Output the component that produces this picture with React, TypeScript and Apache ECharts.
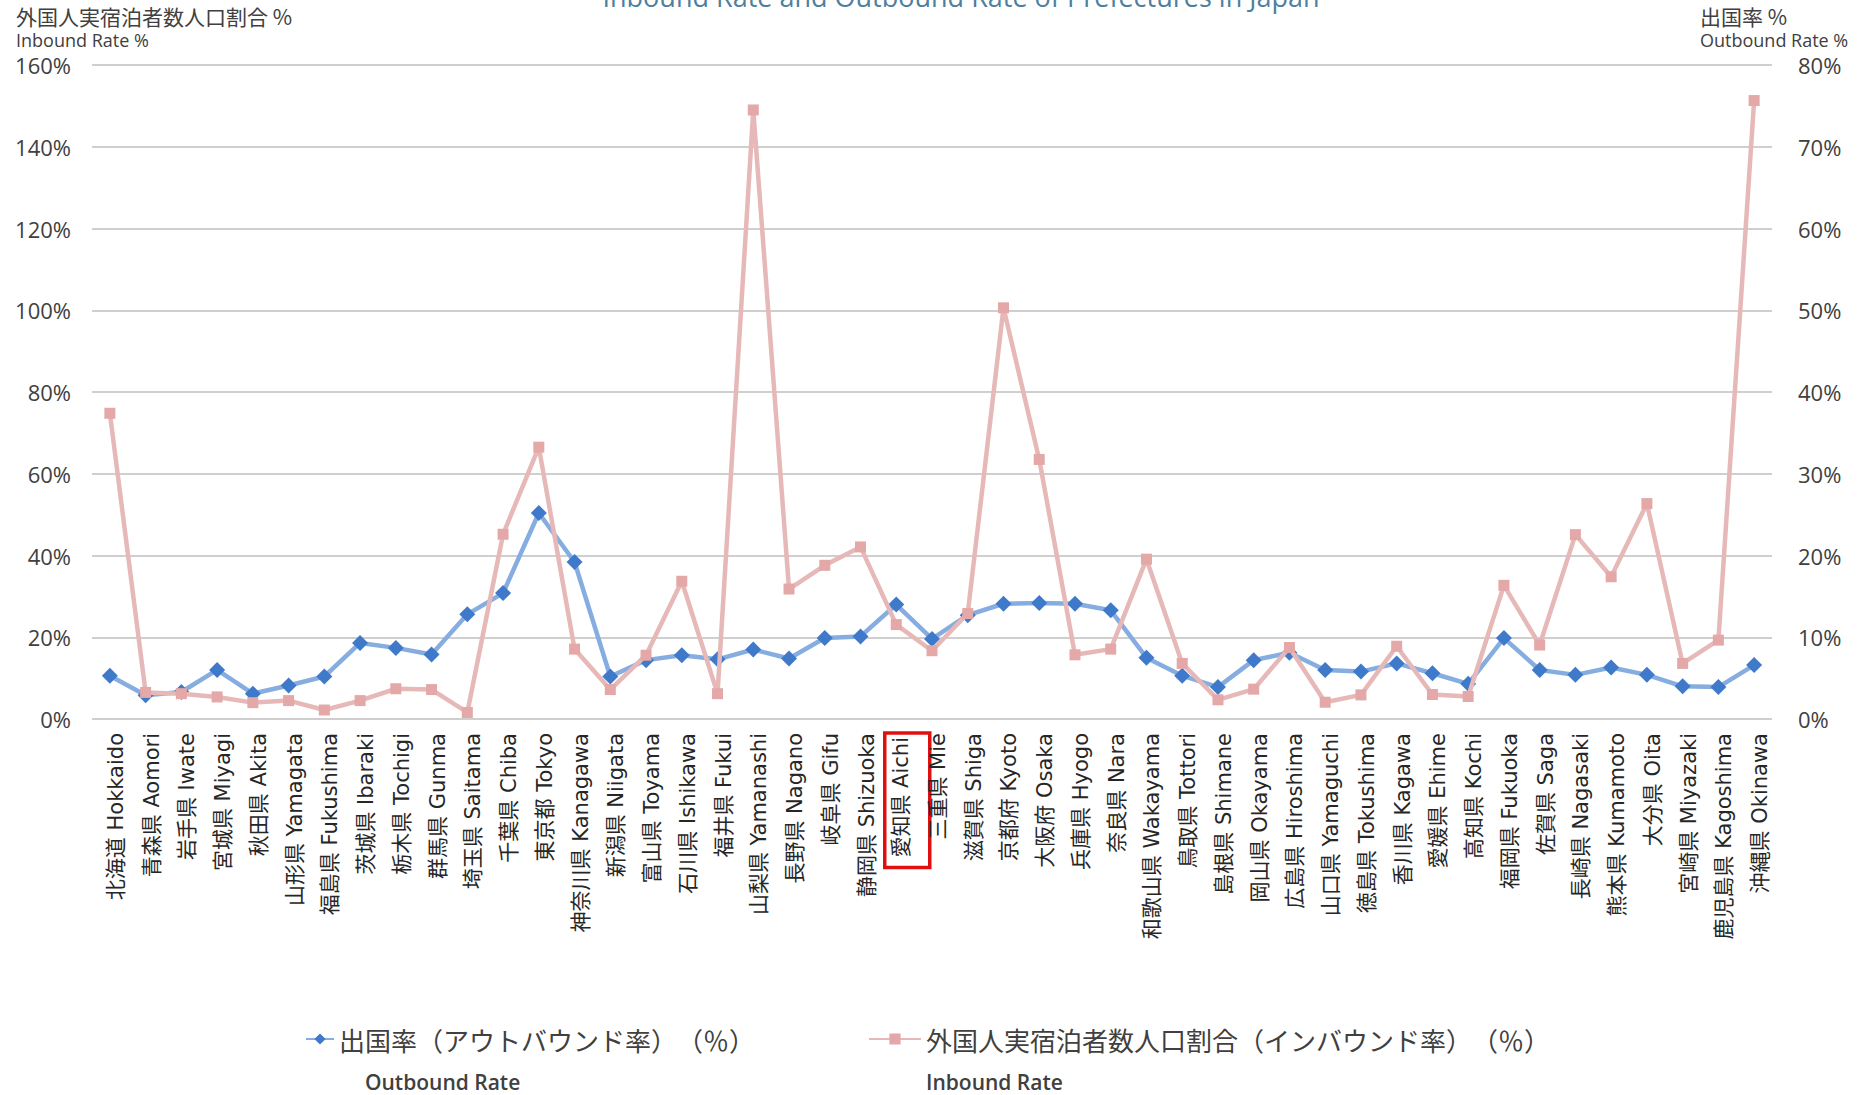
import React, { useEffect, useRef } from "react";
import * as echarts from "echarts";

const categories = [
  "北海道 Hokkaido", "青森県 Aomori", "岩手県 Iwate", "宮城県 Miyagi", "秋田県 Akita",
  "山形県 Yamagata", "福島県 Fukushima", "茨城県 Ibaraki", "栃木県 Tochigi", "群馬県 Gunma",
  "埼玉県 Saitama", "千葉県 Chiba", "東京都 Tokyo", "神奈川県 Kanagawa", "新潟県 Niigata",
  "富山県 Toyama", "石川県 Ishikawa", "福井県 Fukui", "山梨県 Yamanashi", "長野県 Nagano",
  "岐阜県 Gifu", "静岡県 Shizuoka", "愛知県 Aichi", "三重県 Mie", "滋賀県 Shiga",
  "京都府 Kyoto", "大阪府 Osaka", "兵庫県 Hyogo", "奈良県 Nara", "和歌山県 Wakayama",
  "鳥取県 Tottori", "島根県 Shimane", "岡山県 Okayama", "広島県 Hiroshima", "山口県 Yamaguchi",
  "徳島県 Tokushima", "香川県 Kagawa", "愛媛県 Ehime", "高知県 Kochi", "福岡県 Fukuoka",
  "佐賀県 Saga", "長崎県 Nagasaki", "熊本県 Kumamoto", "大分県 Oita", "宮崎県 Miyazaki",
  "鹿児島県 Kagoshima", "沖縄県 Okinawa",
];

// Outbound rate (%), right axis
const outboundRate = [
  5.3, 2.9, 3.3, 6.0, 3.1, 4.1, 5.2, 9.3, 8.7, 7.9,
  12.8, 15.4, 25.2, 19.2, 5.2, 7.2, 7.8, 7.3, 8.5, 7.4,
  9.9, 10.1, 14.0, 9.8, 12.7, 14.1, 14.2, 14.1, 13.3, 7.5,
  5.3, 3.9, 7.2, 8.1, 6.0, 5.8, 6.8, 5.6, 4.3, 9.9,
  6.0, 5.4, 6.3, 5.4, 4.0, 3.9, 6.6,
];

// Inbound rate (%), left axis
const inboundRate = [
  74.8, 6.5, 6.2, 5.4, 4.0, 4.5, 2.2, 4.5, 7.4, 7.2,
  1.6, 45.2, 66.5, 17.1, 7.2, 15.6, 33.7, 6.2, 149.0, 31.8,
  37.6, 42.1, 23.1, 16.7, 25.8, 100.6, 63.5, 15.7, 17.1, 39.1,
  13.6, 4.7, 7.3, 17.5, 4.1, 5.9, 17.8, 6.0, 5.5, 32.7,
  18.1, 45.1, 34.8, 52.7, 13.6, 19.3, 151.3,
];

const highlighted = "愛知県 Aichi";

const outboundName = "出国率（アウトバウンド率）　（％）";
const inboundName = "外国人実宿泊者数人口割合（インバウンド率）　（％）";
const outboundSub = "Outbound Rate";
const inboundSub = "Inbound Rate";

const title = "Inbound Rate and Outbound Rate of Prefectures in Japan";
const leftAxisName = ["外国人実宿泊者数人口割合 %", "Inbound Rate %"];
const rightAxisName = ["出国率 %", "Outbound Rate %"];

const CJK = "'Noto Sans CJK JP', 'Noto Sans', sans-serif";
const LAT = "'Open Sans', 'Noto Sans CJK JP', sans-serif";
const WIDE = "'DejaVu Sans', 'Noto Sans CJK JP', sans-serif";

export default function App() {
  const ref = useRef<HTMLDivElement>(null);

  useEffect(() => {
    if (!ref.current) return;
    const chart = echarts.init(ref.current, null, { renderer: "svg" });
    const legendText = { fontSize: 26, color: "#404040", fontFamily: CJK };
    const axisData = categories.map((c) =>
      c === highlighted ? { value: c, textStyle: { padding: [22, 0, 0, 0] } } : c
    );
    const option = {
      animation: false,
      backgroundColor: "#ffffff",
      grid: { left: 92, right: 85, top: 65, bottom: 376 },
      xAxis: {
        type: "category",
        data: axisData,
        boundaryGap: true,
        axisLine: { show: false },
        axisTick: { show: false },
        axisLabel: {
          interval: 0,
          rotate: 90,
          margin: 14,
          padding: [12, 0, 0, 0],
          fontSize: 21,
          color: "#262626",
          fontFamily: WIDE,
          formatter: (v: string) => (v === highlighted ? `{hl|${v}}` : v),
          rich: {
            hl: {
              fontSize: 21,
              color: "#262626",
              fontFamily: WIDE,
              borderColor: "#e01010",
              borderWidth: 3.5,
              padding: [6, 4, 18, 10],
            },
          },
        },
      },
      yAxis: [
        {
          type: "value",
          min: 0,
          max: 160,
          interval: 20,
          position: "left",
          axisLine: { show: false },
          axisTick: { show: false },
          axisLabel: {
            formatter: "{value}%",
            fontSize: 22,
            margin: 21,
            color: "#404040",
            fontFamily: LAT,
          },
          splitLine: { lineStyle: { color: "#bfbfbf", width: 1.5 } },
        },
        {
          type: "value",
          min: 0,
          max: 80,
          interval: 10,
          position: "right",
          axisLine: { show: false },
          axisTick: { show: false },
          axisLabel: {
            formatter: "{value}%",
            fontSize: 22,
            margin: 26,
            color: "#404040",
            fontFamily: LAT,
          },
          splitLine: { show: false },
        },
      ],
      legend: [
        {
          left: 300,
          top: 1021,
          itemWidth: 28,
          itemHeight: 14,
          textStyle: legendText,
          data: [outboundName],
        },
        {
          left: 863,
          top: 1021,
          itemWidth: 52,
          itemHeight: 14,
          textStyle: legendText,
          data: [inboundName],
        },
      ],
      series: [
        {
          name: outboundName,
          type: "line",
          yAxisIndex: 1,
          data: outboundRate,
          symbol: "diamond",
          symbolSize: 16,
          lineStyle: { color: "#86ade0", width: 4.5 },
          itemStyle: { color: "#3f79c9" },
          z: 2,
        },
        {
          name: inboundName,
          type: "line",
          yAxisIndex: 0,
          data: inboundRate,
          symbol: "rect",
          symbolSize: 11,
          lineStyle: { color: "#e6b8b7", width: 4.5 },
          itemStyle: { color: "#e3a8a7" },
          z: 3,
        },
      ],
      graphic: [
        {
          type: "text",
          x: 961,
          y: -4,
          style: {
            text: title,
            fontSize: 27,
            fill: "#4e7f9e",
            fontFamily: LAT,
            textAlign: "center",
            textVerticalAlign: "middle",
          },
        },
        {
          type: "text",
          x: 16,
          y: 16,
          style: { text: leftAxisName[0], fontSize: 21, fill: "#404040", fontFamily: CJK, textVerticalAlign: "middle" },
        },
        {
          type: "text",
          x: 16,
          y: 40,
          style: { text: leftAxisName[1], fontSize: 18, fill: "#404040", fontFamily: LAT, textVerticalAlign: "middle" },
        },
        {
          type: "text",
          x: 1700,
          y: 16,
          style: { text: rightAxisName[0], fontSize: 21, fill: "#404040", fontFamily: CJK, textVerticalAlign: "middle" },
        },
        {
          type: "text",
          x: 1700,
          y: 40,
          style: { text: rightAxisName[1], fontSize: 18, fill: "#404040", fontFamily: LAT, textVerticalAlign: "middle" },
        },
        {
          type: "text",
          x: 365,
          y: 1082,
          style: { text: outboundSub, fontSize: 21, fontWeight: 600, fill: "#404040", fontFamily: LAT, textVerticalAlign: "middle" },
        },
        {
          type: "text",
          x: 926,
          y: 1082,
          style: { text: inboundSub, fontSize: 21, fontWeight: 600, fill: "#404040", fontFamily: LAT, textVerticalAlign: "middle" },
        },
      ],
    };
    chart.setOption(option as any);
    return () => chart.dispose();
  }, []);

  return (
    <div
      ref={ref}
      style={{ position: "fixed", left: 0, top: 0, width: 1857, height: 1095, background: "#fff" }}
    />
  );
}
